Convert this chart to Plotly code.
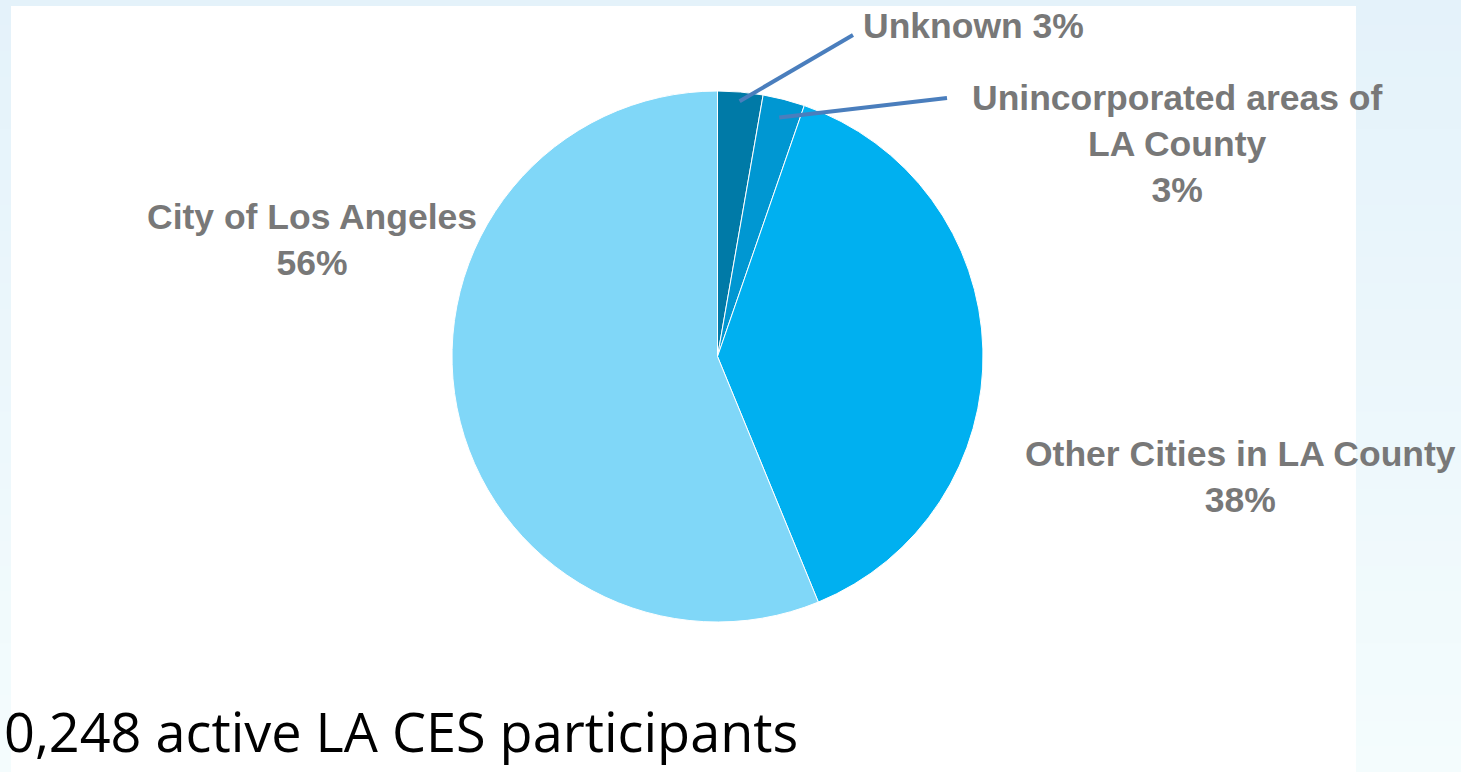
import math
import plotly.graph_objects as go

# ---- data ----
categories = ["Unknown", "Unincorporated areas of LA County",
              "Other Cities in LA County", "City of Los Angeles"]
values = [2.75, 2.55, 38.5, 56.2]
pct_text = ["3%", "3%", "38%", "56%"]
label_lines = [["Unknown 3%"],
               ["Unincorporated areas of", "LA County", "3%"],
               ["Other Cities in LA County", "38%"],
               ["City of Los Angeles", "56%"]]
subtitle = "0,248 active LA CES participants"

# ---- style / layout ----
colors = ["#007AA7", "#0097D2", "#00B0F0", "#80D7F8"]
W, H = 1461, 772
cx, cy, R = 717.5, 356.5, 265.5          # pie centre / radius in px
label_pos = [(973, 26), (1177, 144), (1240, 477), (312, 240)]  # px centres
leader_end = [(853, 35), (947, 98), None, None]
leader_r = [0.965, 0.93, None, None]
label_color = "#787878"
leader_color = "#4A7EBD"


def px(x):
    return x / W


def py(y):
    return 1 - y / H


fig = go.Figure()
fig.add_trace(go.Pie(
    labels=categories, values=values, text=pct_text,
    sort=False, direction="clockwise", rotation=0,
    marker=dict(colors=colors, line=dict(color="white", width=1)),
    textinfo="none", hoverinfo="label+text", showlegend=False,
    domain=dict(x=[px(cx - R), px(cx + R)], y=[py(cy + R), py(cy - R)]),
))

shapes = []
# background gradient
top = (0xE4, 0xF2, 0xFA)
bot = (0xF4, 0xFC, 0xFD)
n = 30
for i in range(n):
    t = i / (n - 1)
    c = tuple(round(top[k] + (bot[k] - top[k]) * t) for k in range(3))
    shapes.append(dict(type="rect", xref="paper", yref="paper", layer="below",
                       x0=0, x1=1, y0=1 - (i + 1) / n - 0.002, y1=1 - i / n,
                       fillcolor="rgb(%d,%d,%d)" % c, line=dict(width=0)))
# white panel
shapes.append(dict(type="rect", xref="paper", yref="paper", layer="below",
                   x0=px(11), x1=px(1356), y0=0, y1=py(6),
                   fillcolor="white", line=dict(width=0)))

# leader lines computed from slice angles
total = sum(values)
cum = 0
for i, v in enumerate(values):
    mid = (cum + v / 2) / total * 2 * math.pi
    cum += v
    if leader_end[i] is None:
        continue
    sx = cx + R * leader_r[i] * math.sin(mid)
    sy = cy - R * leader_r[i] * math.cos(mid)
    ex, ey = leader_end[i]
    shapes.append(dict(type="line", xref="paper", yref="paper",
                       x0=px(sx), y0=py(sy), x1=px(ex), y1=py(ey),
                       line=dict(color=leader_color, width=4)))

annotations = []
for lines, (lx, ly) in zip(label_lines, label_pos):
    annotations.append(dict(
        text="<br>".join("<b>%s</b>" % s for s in lines),
        xref="paper", yref="paper", x=px(lx), y=py(ly),
        xanchor="center", yanchor="middle", showarrow=False, align="center",
        font=dict(family="Liberation Sans, Arial", size=35.5, color=label_color)))

annotations.append(dict(
    text=subtitle, xref="paper", yref="paper", x=px(800), y=py(731),
    xanchor="right", yanchor="middle", showarrow=False,
    font=dict(family="Open Sans", size=54, color="black")))

fig.update_layout(
    width=W, height=H, margin=dict(l=0, r=0, t=0, b=0),
    paper_bgcolor="#EAF6FB", plot_bgcolor="white",
    shapes=shapes, annotations=annotations,
)

fig.write_html("out.html", config={"displayModeBar": False},
               post_script="document.body.style.margin='0';")
